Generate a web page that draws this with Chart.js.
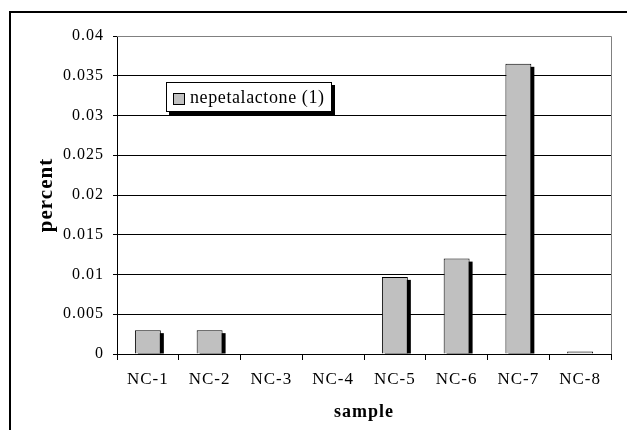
<!DOCTYPE html>
<html>
<head>
    <title>Nepetalactone by sample</title>
    <script src="https://cdn.jsdelivr.net/npm/chart.js"></script>
    <style>
        body { margin: 0; background: #fff; }
        #wrap { width: 627px; height: 430px; }
    </style>
</head>
<body>
    <div id="wrap"><canvas id="barChart" width="627" height="430"></canvas></div>

    <script>
        const samples = ["NC-1", "NC-2", "NC-3", "NC-4", "NC-5", "NC-6", "NC-7", "NC-8"];
        const nepetalactone = [0.003, 0.003, 0, 0, 0.0097, 0.012, 0.0365, 0.0003];
        const yTicks = [0, 0.005, 0.01, 0.015, 0.02, 0.025, 0.03, 0.035, 0.04];

        const serif = "'Liberation Serif', 'Times New Roman', serif";
        const barGray = "#c0c0c0";

        // Excel-ish extras: outer frame, plot border, bar shadows, boxed legend
        const excelLook = {
            id: "excelLook",
            beforeLayout(chart) {
                chart.ctx.letterSpacing = "1px";
            },
            beforeDatasetsDraw(chart) {
                const ctx = chart.ctx;
                const area = chart.chartArea;
                ctx.save();
                ctx.fillStyle = "#000";
                chart.getDatasetMeta(0).data.forEach(bar => {
                    const h = bar.base - bar.y;
                    if (h < 1) return;
                    const w = bar.width;
                    const top = bar.y + 3;
                    if (top < bar.base) {
                        ctx.fillRect(bar.x - w / 2 + 3, top, w, Math.min(bar.base, area.bottom) - top);
                    }
                });
                ctx.restore();
            },
            afterDraw(chart) {
                const ctx = chart.ctx;
                const area = chart.chartArea;
                ctx.save();
                // plot border top/right
                ctx.strokeStyle = "#808080";
                ctx.lineWidth = 1;
                ctx.beginPath();
                ctx.moveTo(area.left, area.top + 0.5);
                ctx.lineTo(area.right + 0.5, area.top + 0.5);
                ctx.lineTo(area.right + 0.5, area.bottom);
                ctx.stroke();

                // outer frame (runs off the right and bottom edge)
                ctx.fillStyle = "#000";
                ctx.fillRect(9, 11, 2, chart.height);
                ctx.fillRect(9, 11, chart.width, 2);

                // legend box with shadow
                const lx = area.left + 49, ly = area.top + 46, lw = 166, lh = 30;
                ctx.fillStyle = "#000";
                ctx.fillRect(lx + 3, ly + 3, lw, lh);
                ctx.fillStyle = "#fff";
                ctx.fillRect(lx, ly, lw, lh);
                ctx.strokeStyle = "#000";
                ctx.strokeRect(lx + 0.5, ly + 0.5, lw - 1, lh - 1);
                ctx.fillStyle = barGray;
                ctx.fillRect(lx + 7, ly + 11, 11, 11);
                ctx.strokeRect(lx + 7.5, ly + 11.5, 11, 11);
                ctx.fillStyle = "#000";
                ctx.letterSpacing = "0.6px";
                ctx.font = "18px " + serif;
                ctx.textBaseline = "middle";
                ctx.fillText(chart.data.datasets[0].label, lx + 24, ly + lh / 2 + 1);
                ctx.restore();
            }
        };

        const ctx = document.getElementById("barChart").getContext("2d");
        const chart = new Chart(ctx, {
            type: "bar",
            data: {
                labels: samples,
                datasets: [{
                    label: "nepetalactone (1)",
                    data: nepetalactone,
                    backgroundColor: barGray,
                    borderColor: "#000",
                    borderWidth: 1,
                    borderSkipped: "bottom",
                    categoryPercentage: 1,
                    barPercentage: 0.42
                }]
            },
            options: {
                responsive: false,
                animation: false,
                devicePixelRatio: 1,
                layout: { padding: { left: 34, top: 36, right: 16, bottom: 7 } },
                plugins: {
                    legend: { display: false },
                    tooltip: { enabled: false }
                },
                scales: {
                    x: {
                        afterFit(scale) { scale.height = 69; },
                        grid: {
                            drawOnChartArea: false,
                            drawTicks: true,
                            tickLength: 6,
                            color: "#000",
                            offset: true
                        },
                        border: { color: "#000", width: 1 },
                        ticks: {
                            color: "#000",
                            padding: 9,
                            maxRotation: 0,
                            font: { family: serif, size: 17 }
                        },
                        title: {
                            display: true,
                            text: "sample",
                            color: "#000",
                            padding: 0,
                            font: { family: serif, size: 18, weight: "bold" }
                        }
                    },
                    y: {
                        min: 0,
                        max: 0.04,
                        afterFit(scale) { scale.width = 83; },
                        afterBuildTicks(scale) {
                            scale.ticks = yTicks.map(v => ({ value: v }));
                        },
                        grid: {
                            color: c => (c.tick && c.tick.value === 0.04 ? "#808080" : "#000"),
                            tickColor: "#000",
                            tickLength: 4,
                            lineWidth: 1
                        },
                        border: { color: "#000", width: 1 },
                        ticks: {
                            color: "#000",
                            padding: 9,
                            font: { family: serif, size: 16 },
                            callback: v => String(v)
                        },
                        title: {
                            display: true,
                            text: "percent",
                            color: "#000",
                            padding: 0,
                            font: { family: serif, size: 21, weight: "bold" }
                        }
                    }
                }
            },
            plugins: [excelLook]
        });
    </script>
</body>
</html>
